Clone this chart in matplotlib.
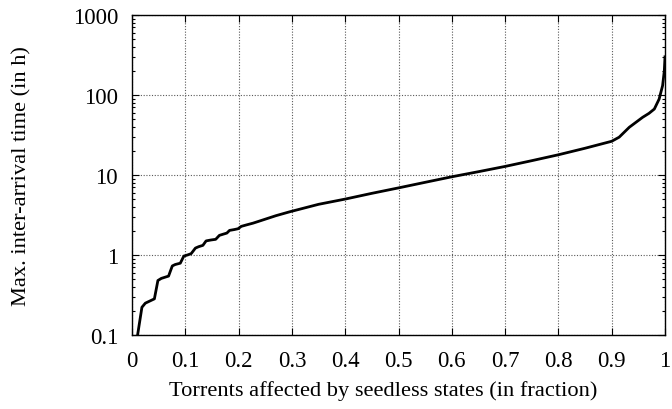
import numpy as np
import matplotlib
matplotlib.use("Agg")
import matplotlib.pyplot as plt
from matplotlib.ticker import FixedLocator, FixedFormatter, LogLocator, NullFormatter

# fraction of torrents vs. max inter-arrival time (h)
frac = [0.0105, 0.0186, 0.025, 0.042, 0.0486, 0.055, 0.0686, 0.0756, 0.081, 0.0906,
        0.0973, 0.104, 0.111, 0.119, 0.125, 0.133, 0.139, 0.148, 0.157, 0.164,
        0.171, 0.178, 0.183, 0.192, 0.199, 0.205, 0.215, 0.227, 0.238, 0.249,
        0.27, 0.296, 0.35, 0.4, 0.45, 0.5, 0.55, 0.6, 0.65, 0.7,
        0.75, 0.8, 0.85, 0.9, 0.914, 0.933, 0.958, 0.97, 0.98, 0.989,
        0.9955, 0.9987, 1.0]
hours = [0.1, 0.222, 0.25, 0.283, 0.48, 0.51, 0.545, 0.73, 0.76, 0.79,
         0.97, 1.0, 1.04, 1.22, 1.27, 1.32, 1.5, 1.54, 1.57, 1.76,
         1.82, 1.88, 2.03, 2.08, 2.13, 2.28, 2.38, 2.5, 2.64, 2.79,
         3.1, 3.47, 4.3, 5.0, 5.9, 6.9, 8.1, 9.5, 11.0, 12.8,
         15.1, 17.9, 21.6, 26.4, 29.7, 39.5, 52.6, 59.0, 66.8, 89.0,
         131.0, 200.0, 300.0]

xticks = [0, 0.1, 0.2, 0.3, 0.4, 0.5, 0.6, 0.7, 0.8, 0.9, 1]
xtick_labels = ["0", "0.1", "0.2", "0.3", "0.4", "0.5", "0.6", "0.7", "0.8", "0.9", "1"]
yticks = [0.1, 1, 10, 100, 1000]
ytick_labels = ["0.1", "1", "10", "100", "1000"]

plt.rcParams["font.family"] = ["Liberation Serif", "DejaVu Serif"]
plt.rcParams["font.size"] = 16.5

W, H = 672, 410
fig = plt.figure(figsize=(W / 100, H / 100), dpi=100)
ax = fig.add_axes([132 / W, 1 - 336 / H, (665 - 132) / W, (336 - 16) / H])

ax.plot(frac, hours, color="black", lw=2.0, solid_joinstyle="round", zorder=3)

ax.set_yscale("log")
ax.set_xlim(0, 1)
ax.set_ylim(0.1, 1000)

ax.xaxis.set_major_locator(FixedLocator(xticks))
ax.xaxis.set_major_formatter(FixedFormatter(xtick_labels))
ax.yaxis.set_major_locator(FixedLocator(yticks))
ax.yaxis.set_major_formatter(FixedFormatter(ytick_labels))
ax.yaxis.set_minor_locator(LogLocator(base=10, subs=np.arange(2, 10), numticks=20))
ax.yaxis.set_minor_formatter(NullFormatter())

ax.tick_params(which="both", direction="in", top=True, right=True, width=0.8)
ax.tick_params(which="major", length=5)
ax.tick_params(axis="x", which="major", pad=11)
ax.tick_params(axis="y", which="major", pad=10)
ax.tick_params(which="minor", length=2.5)

ax.grid(True, which="major", color="0.35", ls=(0, (1, 1.5)), lw=0.8)
for s in ax.spines.values():
    s.set_linewidth(1.0)

# axis titles placed where the reference has them
fig.text(383 / W, 1 - 391 / H, "Torrents affected by seedless states (in fraction)",
         ha="center", va="center", fontsize=16.1)
fig.text(22 / W, 1 - 176 / H, "Max. inter-arrival time (in h)",
         ha="center", va="center", rotation=90, fontsize=16.1)

fig.savefig("out.png", dpi=100)
